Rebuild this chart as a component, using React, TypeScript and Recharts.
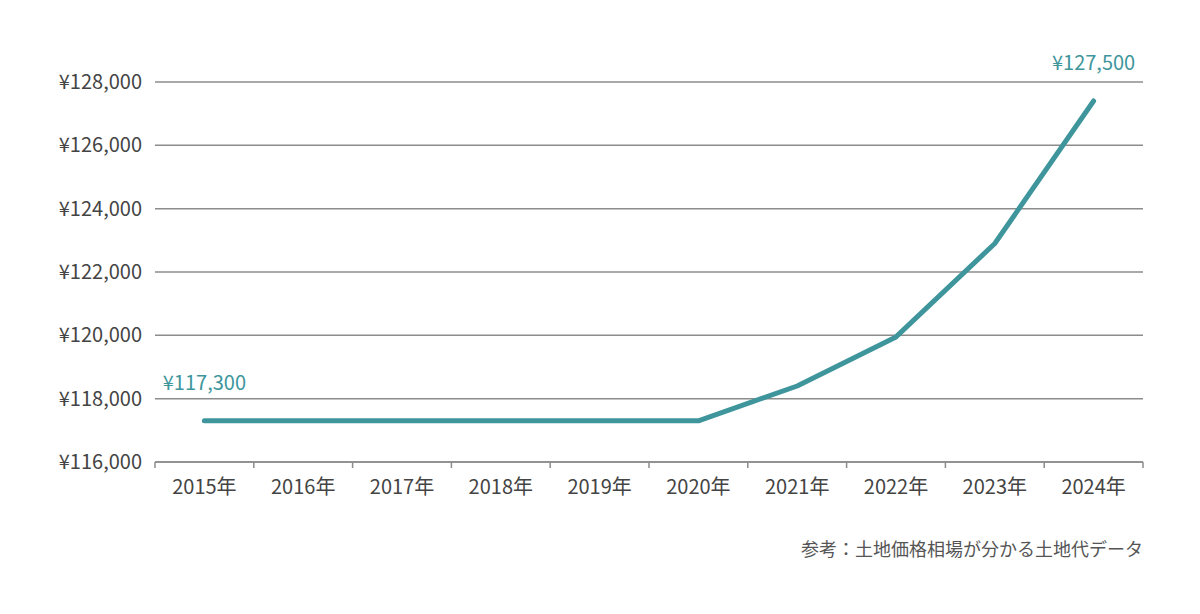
import React from 'react';
import {
    LineChart,
    Line,
    XAxis,
    YAxis,
    CartesianGrid,
    LabelList,
} from 'recharts';

const YEARS = ['2015年', '2016年', '2017年', '2018年', '2019年', '2020年', '2021年', '2022年', '2023年', '2024年'];
const PRICES = [117300, 117300, 117300, 117300, 117300, 117300, 118400, 119950, 122900, 127400];
const Y_TICKS = [116000, 118000, 120000, 122000, 124000, 126000, 128000];
// value callouts shown above the first and last point
const CALLOUTS: Record<number, string> = { 0: '¥117,300', 9: '¥127,500' };
const SOURCE_NOTE = '参考：土地価格相場が分かる土地代データ';

const WIDTH = 1200;
const HEIGHT = 614;
const MARGIN = { top: 82, right: 57, bottom: 0, left: 0 };
const Y_AXIS_W = 155;
const PLOT_W = WIDTH - MARGIN.left - MARGIN.right - Y_AXIS_W;
const BAND = PLOT_W / YEARS.length;

const TEAL = '#3e959b';
const AXIS_GRAY = '#8c8c8c';
const TEXT_GRAY = '#444444';
const FONT = '"Noto Sans CJK JP", "Noto Sans", sans-serif';

const data = YEARS.map((year, i) => ({ year, price: PRICES[i] }));

const yen = (v: number) => `¥${v.toLocaleString('en-US')}`;

const YearTick = (props: any) => {
    const { x, y, payload, index } = props;
    const last = index === YEARS.length - 1;
    return (
        <g>
            <line x1={x - BAND / 2} x2={x - BAND / 2} y1={y} y2={y + 6} stroke={AXIS_GRAY} strokeWidth={1.5} />
            {last && (
                <line x1={x + BAND / 2} x2={x + BAND / 2} y1={y} y2={y + 6} stroke={AXIS_GRAY} strokeWidth={1.5} />
            )}
            <text x={x} y={y + 32} textAnchor="middle" fill={TEXT_GRAY} fontSize={20} fontFamily={FONT}>
                {payload.value}
            </text>
        </g>
    );
};

const Callout = (props: any) => {
    const { x, y, index } = props;
    const text = CALLOUTS[index];
    if (!text) return null;
    return (
        <text x={x} y={y - 31} textAnchor="middle" fill={TEAL} fontSize={20} fontFamily={FONT}>
            {text}
        </text>
    );
};

export default function App() {
    return (
        <div
            style={{
                position: 'fixed',
                top: 0,
                left: 0,
                width: WIDTH,
                height: HEIGHT,
                background: '#ffffff',
                fontFamily: FONT,
            }}
        >
            <LineChart width={WIDTH} height={HEIGHT} data={data} margin={MARGIN}>
                <CartesianGrid horizontal vertical={false} stroke={AXIS_GRAY} strokeWidth={1.5} />
                <XAxis
                    dataKey="year"
                    scale="band"
                    height={152}
                    axisLine={{ stroke: AXIS_GRAY, strokeWidth: 1.5 }}
                    tickLine={false}
                    tickSize={0}
                    tickMargin={0}
                    interval={0}
                    tick={<YearTick />}
                />
                <YAxis
                    width={Y_AXIS_W}
                    domain={[116000, 128000]}
                    ticks={Y_TICKS}
                    axisLine={false}
                    tickLine={false}
                    tickSize={0}
                    tickMargin={13}
                    tickFormatter={yen}
                    tick={{ fill: TEXT_GRAY, fontSize: 20, fontFamily: FONT }}
                />
                <Line
                    type="linear"
                    dataKey="price"
                    stroke={TEAL}
                    strokeWidth={5}
                    strokeLinecap="round"
                    strokeLinejoin="round"
                    dot={false}
                    activeDot={false}
                    isAnimationActive={false}
                >
                    <LabelList dataKey="price" content={<Callout />} />
                </Line>
            </LineChart>
            <div
                style={{
                    position: 'absolute',
                    right: WIDTH - 1143,
                    top: 536,
                    fontSize: 18,
                    lineHeight: '24px',
                    color: '#555555',
                    fontFamily: FONT,
                    whiteSpace: 'nowrap',
                }}
            >
                {SOURCE_NOTE}
            </div>
        </div>
    );
}
